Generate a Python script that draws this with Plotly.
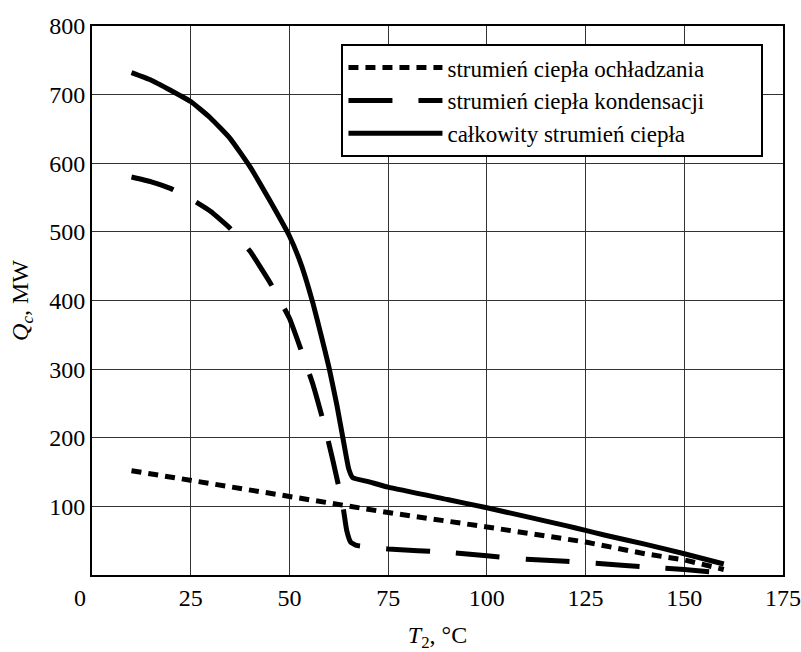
import plotly.graph_objects as go

# Data
x_cool = [10, 25, 50, 63, 75, 100, 125, 140, 150, 160]
y_cool = [152, 138, 116, 103, 91, 70, 48, 31, 22, 8]

x_cond = [10, 15, 20, 25, 30, 35, 40, 45, 50, 53, 56, 59, 61, 63.5, 64.5, 65.5, 67,
          75, 90, 100, 110, 120, 130, 140, 150, 160]
y_cond = [580, 573, 563, 548, 530, 505, 472, 427, 374, 327, 277, 215, 167, 102, 65, 48, 43,
          38, 33, 28, 23, 20, 16, 12, 8, 3]

x_total = [10, 15, 20, 25, 30, 35, 40, 45, 50, 53, 56, 58, 60, 62, 64, 65, 66,
           70, 75, 90, 100, 110, 120, 125, 130, 140, 150, 160]
y_total = [732, 721, 706, 690, 666, 636, 595, 546, 494, 452, 395, 350, 303, 248, 185, 155, 142,
           136, 128, 110, 98, 85, 72, 65, 58, 45, 31, 16]

names = ["strumień ciepła ochładzania", "strumień ciepła kondensacji", "całkowity strumień ciepła"]

x_ticks = [0, 25, 50, 75, 100, 125, 150, 175]
x_ticktext = ["0\u00a0\u00a0\u00a0\u00a0", "25", "50", "75", "100", "125", "150", "175"]
y_ticks = [100, 200, 300, 400, 500, 600, 700, 800]

FONT = "Liberation Serif, Times New Roman, serif"
pad = "\u00a0" * 9

fig = go.Figure()
fig.add_trace(go.Scatter(x=x_cool, y=y_cool, mode="lines", name=names[0] + pad,
                         line=dict(color="black", width=5, dash="10px,7px")))
fig.add_trace(go.Scatter(x=x_cond, y=y_cond, mode="lines", name=names[1] + pad,
                         line=dict(color="black", width=5, dash="44px,26px",
                                   shape="spline", smoothing=0.4)))
fig.add_trace(go.Scatter(x=x_total, y=y_total, mode="lines", name=names[2] + pad,
                         line=dict(color="black", width=5, shape="spline", smoothing=0.4)))

fig.update_layout(
    width=801, height=652,
    margin=dict(l=92, r=18, t=26, b=77, autoexpand=False),
    paper_bgcolor="white", plot_bgcolor="white",
    font=dict(family=FONT, size=24, color="black"),
    showlegend=True,
    legend=dict(x=0.361, y=0.967, xanchor="left", yanchor="top",
                bgcolor="white", bordercolor="black", borderwidth=2,
                font=dict(family=FONT, size=23, color="black"),
                itemwidth=94, tracegroupgap=0),
)
fig.update_xaxes(
    range=[0, 175], tickmode="array", tickvals=x_ticks, ticktext=x_ticktext,
    showgrid=True, gridcolor="#333333", gridwidth=1,
    showline=True, linecolor="black", linewidth=2, mirror=True,
    ticks="",
    zeroline=False, automargin=False,
    title=dict(text="<i>T</i><sub>2</sub>, °C", standoff=31, font=dict(size=24)),
)
fig.update_yaxes(
    range=[0, 800], tickmode="array", tickvals=y_ticks,
    showgrid=True, gridcolor="#333333", gridwidth=1,
    showline=True, linecolor="black", linewidth=2, mirror=True,
    ticks="", zeroline=False, automargin=False,
    title=dict(text="<i>Q<sub>c</sub></i>, MW", standoff=14, font=dict(size=24)),
)

fig.write_html("out.html")
